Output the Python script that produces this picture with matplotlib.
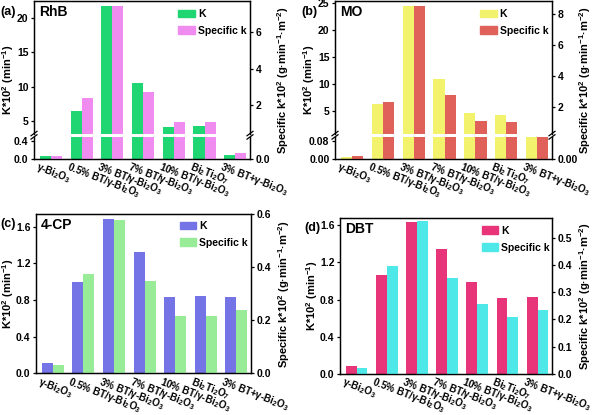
import numpy as np
import matplotlib
matplotlib.use("Agg")
import matplotlib.pyplot as plt
import matplotlib.transforms as mtransforms
from matplotlib.lines import Line2D
from matplotlib.patches import Patch
from matplotlib.ticker import FormatStrFormatter

plt.rcParams["font.family"] = ["Liberation Sans", "DejaVu Sans"]
plt.rcParams["font.weight"] = "bold"
plt.rcParams["mathtext.fontset"] = "custom"
plt.rcParams["mathtext.rm"] = "Liberation Sans:bold"
plt.rcParams["mathtext.bf"] = "Liberation Sans:bold"
plt.rcParams["mathtext.it"] = "Liberation Sans:bold"
plt.rcParams["mathtext.default"] = "bf"
plt.rcParams["axes.linewidth"] = 0.9

W, H = 600, 415

SAMPLES = ["γ-Bi$_2$O$_3$", "0.5% BT/γ-Bi$_2$O$_3$", "3% BT/γ-Bi$_2$O$_3$",
           "7% BT/γ-Bi$_2$O$_3$", "10% BT/γ-Bi$_2$O$_3$", "Bi$_2$Ti$_2$O$_7$",
           "3% BT+γ-Bi$_2$O$_3$"]

RHB_K = [0.05, 6.42, 21.8, 10.5, 4.07, 4.27, 0.09]
RHB_SPEC = [0.065, 2.40, 7.45, 2.73, 1.05, 1.05, 0.13]
MO_K = [0.006, 6.3, 24.5, 10.9, 4.57, 4.25, 0.098]
MO_SPEC = [0.013, 2.35, 8.52, 2.80, 1.13, 1.02, 0.099]
CP_K = [0.11, 1.0, 1.68, 1.32, 0.833, 0.847, 0.83]
CP_SPEC = [0.0325, 0.375, 0.578, 0.346, 0.2175, 0.2175, 0.2375]
DBT_K = [0.08, 1.067, 1.64, 1.35, 0.993, 0.817, 0.828]
DBT_SPEC = [0.022, 0.396, 0.563, 0.354, 0.258, 0.211, 0.236]

K_LABEL = "K*10$^{2}$ (min$^{-1}$)"
SPEC_LABEL = "Specific k*10$^{2}$ (g·min$^{-1}$·m$^{-2}$)"

X = np.arange(len(SAMPLES))
BW = 0.36


def px_rect(x0, y0, x1, y1):
    return [x0 / W, 1 - y1 / H, (x1 - x0) / W, (y1 - y0) / H]


def ftext(fig, x, y, s, **kw):
    fig.text(x / W, 1 - y / H, s, **kw)


def break_mark(fig, x, y):
    for dy in (-1.7, 1.7):
        fig.add_artist(Line2D([(x - 3) / W, (x + 3) / W],
                              [1 - (y + dy + 2.2) / H, 1 - (y + dy - 2.2) / H],
                              color="black", lw=0.9))


def make_pair(fig, rect, k, spec, c1, c2):
    ax = fig.add_axes(rect)
    ax2 = ax.twinx()
    ax.bar(X - BW / 2, k, BW, color=c1)
    ax2.bar(X + BW / 2, spec, BW, color=c2)
    ax.set_xlim(-0.55, 6.48)
    for a in (ax, ax2):
        a.tick_params(axis="y", direction="out", length=2.5, width=0.9, labelsize=7.5, pad=1.5)
        a.tick_params(axis="x", length=0)
    return ax, ax2


def set_xlabels(fig, ax):
    ax.set_xticks(X)
    ax.set_xticklabels(SAMPLES, rotation=-21, ha="left", va="top",
                       rotation_mode="anchor", fontsize=7.1)
    ax.tick_params(axis="x", length=0, pad=1.2)
    offset = mtransforms.ScaledTranslation(-0.12, 0, fig.dpi_scale_trans)
    for lab in ax.get_xticklabels():
        lab.set_transform(lab.get_transform() + offset)


def add_legend(ax, c1, c2, y):
    handles = [Patch(color=c1, label="K"), Patch(color=c2, label="Specific k")]
    ax.legend(handles=handles, loc="upper left", bbox_to_anchor=(0.668, y), frameon=False,
              fontsize=7.5, handlelength=1.6, handleheight=0.75, handletextpad=0.3,
              labelspacing=0.65, borderpad=0, borderaxespad=0)


def broken_panel(fig, x0, x1, k, spec, c1, c2, lims, ticks, fmt_low, tag, name):
    y_top, y_hi, y_lo, y_bot = 1, 134, 136.5, 158.5
    up, up2 = make_pair(fig, px_rect(x0, y_top, x1, y_hi), k, spec, c1, c2)
    lo, lo2 = make_pair(fig, px_rect(x0, y_lo, x1, y_bot), k, spec, c1, c2)

    up.set_ylim(*lims["up"])
    up2.set_ylim(*lims["up2"])
    lo.set_ylim(*lims["lo"])
    lo2.set_ylim(*lims["lo2"])
    up.set_yticks(ticks["up"])
    up2.set_yticks(ticks["up2"])
    lo.set_yticks(ticks["lo"])
    lo2.set_yticks(ticks["lo2"])
    lo.yaxis.set_major_formatter(FormatStrFormatter(fmt_low))
    lo2.yaxis.set_major_formatter(FormatStrFormatter(fmt_low))

    for a in (up, up2):
        a.spines["bottom"].set_visible(False)
        a.tick_params(labelbottom=False)
    for a in (lo, lo2):
        a.spines["top"].set_visible(False)
    set_xlabels(fig, lo)

    y_brk = (y_hi + y_lo) / 2
    break_mark(fig, x0, y_brk)
    break_mark(fig, x1, y_brk)

    add_legend(up2, c1, c2, 0.94)
    ftext(fig, x0 - 34, 12, tag, fontsize=9, va="center", ha="left")
    ftext(fig, x0 + 5, 12, name, fontsize=10, va="center", ha="left")
    ftext(fig, x0 - 26, (y_top + y_bot) / 2, K_LABEL, rotation=90, fontsize=8, ha="center", va="center")
    ftext(fig, x1 + 33, (y_top + y_bot) / 2, SPEC_LABEL, rotation=90, fontsize=8, ha="center", va="center")


def simple_panel(fig, x0, x1, y0, y1, k, spec, c1, c2, ylim, ylim2, ticks, ticks2, tag, name, leg_y):
    ax, ax2 = make_pair(fig, px_rect(x0, y0, x1, y1), k, spec, c1, c2)
    ax.set_ylim(*ylim)
    ax2.set_ylim(*ylim2)
    ax.set_yticks(ticks)
    ax2.set_yticks(ticks2)
    ax.yaxis.set_major_formatter(FormatStrFormatter("%.1f"))
    ax2.yaxis.set_major_formatter(FormatStrFormatter("%.1f"))
    set_xlabels(fig, ax)
    add_legend(ax2, c1, c2, leg_y)
    ftext(fig, x0 - 36, y0 + 10, tag, fontsize=9, va="center", ha="left")
    ftext(fig, x0 + 5, y0 + 11, name, fontsize=10, va="center", ha="left")
    ftext(fig, x0 - 28, (y0 + y1) / 2, K_LABEL, rotation=90, fontsize=8, ha="center", va="center")
    ftext(fig, x1 + 33, (y0 + y1) / 2, SPEC_LABEL, rotation=90, fontsize=8, ha="center", va="center")


def main():
    fig = plt.figure(figsize=(W / 100, H / 100), dpi=100)

    broken_panel(fig, 34, 250, RHB_K, RHB_SPEC, "#1fd672", "#f08cf0",
                 {"up": (3.05, 22.53), "up2": (0.41, 7.72), "lo": (0, 0.5), "lo2": (0, 0.5)},
                 {"up": [5, 10, 15, 20], "up2": [2, 4, 6], "lo": [0.0, 0.4], "lo2": [0.0]},
                 "%.1f", "(a)", "RhB")
    broken_panel(fig, 335, 552, MO_K, MO_SPEC, "#f2f26c", "#e0605a",
                 {"up": (0.73, 25.43), "up2": (0.26, 8.85), "lo": (0, 0.1), "lo2": (0, 0.1)},
                 {"up": [5, 10, 15, 20, 25], "up2": [2, 4, 6, 8], "lo": [0.0, 0.08], "lo2": [0.0]},
                 "%.2f", "(b)", "MO")

    simple_panel(fig, 36, 251, 214, 373.3, CP_K, CP_SPEC, "#7474e6", "#98ec98",
                 (0, 1.74), (0, 0.6), [0, 0.4, 0.8, 1.2, 1.6], [0, 0.2, 0.4, 0.6],
                 "(c)", "4-CP", 0.956)
    simple_panel(fig, 340, 552, 218, 373.6, DBT_K, DBT_SPEC, "#e8357a", "#4ee8e8",
                 (0, 1.68), (0, 0.575), [0, 0.4, 0.8, 1.2, 1.6], [0, 0.1, 0.2, 0.3, 0.4, 0.5],
                 "(d)", "DBT", 0.949)

    fig.savefig("out.png", dpi=100)
    plt.close(fig)


if __name__ == "__main__":
    main()
